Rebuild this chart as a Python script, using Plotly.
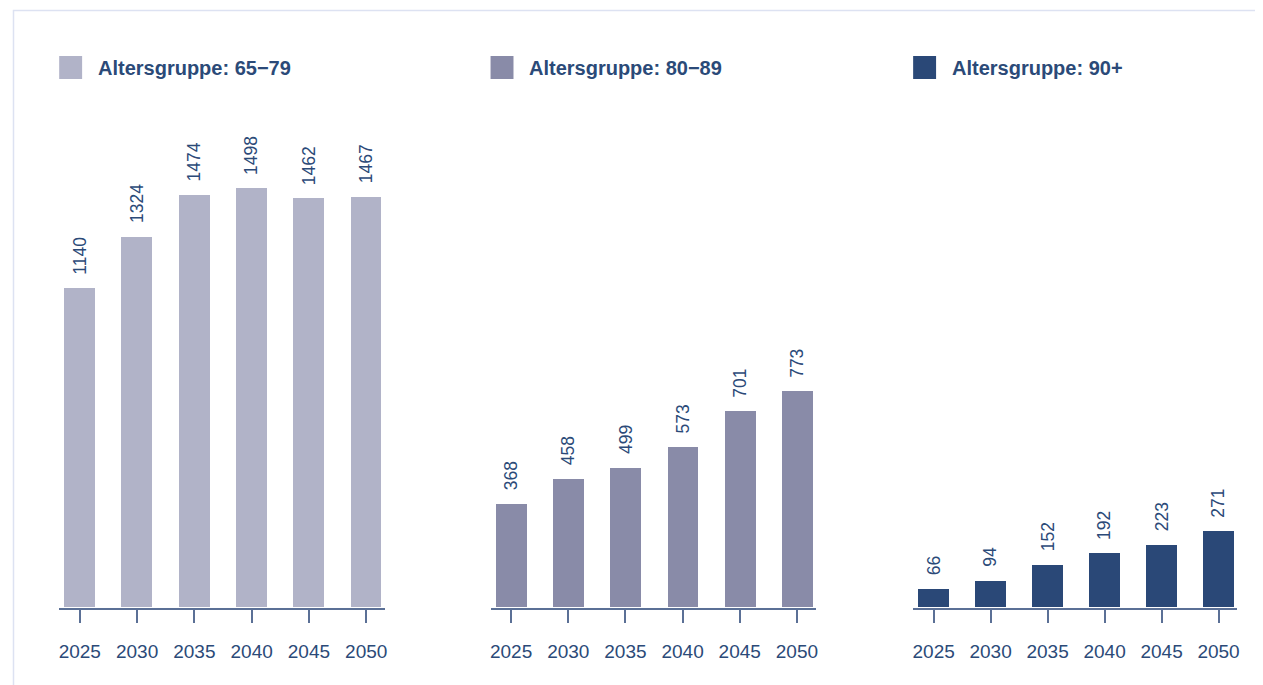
import plotly.graph_objects as go

# the page puts the figure 8px in from the top-left corner
OFFSET = 8
W, H = 1263 - OFFSET, 685 - OFFSET

YEARS = [2025, 2030, 2035, 2040, 2045, 2050]
GROUPS = ["Altersgruppe: 65\u221279", "Altersgruppe: 80\u221289", "Altersgruppe: 90+"]
VALUES_65_79 = [1140, 1324, 1474, 1498, 1462, 1467]
VALUES_80_89 = [368, 458, 499, 573, 701, 773]
VALUES_90 = [66, 94, 152, 192, 223, 271]

COLORS = ["#b1b3c8", "#898ba8", "#2a4877"]
TEXT = "#2b4a78"
AXIS = "#5b7096"
FONT = "Liberation Sans, Arial, sans-serif"

# panel placement in screen pixels (left, right) of each x axis
PANELS = [(58.3, 385.0), (490.7, 816.7), (914.3, 1239.3)]
BASE_Y = 607.5
Y_MAX = 1800
PX_PER_UNIT = 0.2795


def px_x(x):
    return (x - OFFSET) / W


def px_y(y):
    return 1 - (y - OFFSET) / H


fig = go.Figure()

series = [VALUES_65_79, VALUES_80_89, VALUES_90]
y_top = BASE_Y - Y_MAX * PX_PER_UNIT

for i, (vals, col, name) in enumerate(zip(series, COLORS, GROUPS)):
    n = "" if i == 0 else str(i + 1)
    fig.add_trace(
        go.Bar(
            x=YEARS,
            y=vals,
            width=2.7,
            marker=dict(color=col, line=dict(width=0)),
            name=name,
            showlegend=False,
            xaxis="x" + n,
            yaxis="y" + n,
            hoverinfo="x+y",
        )
    )
    left, right = PANELS[i]
    fig.update_layout(
        {
            "xaxis" + n: dict(
                domain=[px_x(left), px_x(right)],
                range=[2023.2, 2051.65],
                tickvals=YEARS,
                ticktext=[str(y) for y in YEARS],
                ticks="outside",
                ticklen=14,
                tickwidth=1.5,
                tickcolor=AXIS,
                ticklabelstandoff=12,
                showline=True,
                linecolor=AXIS,
                linewidth=1.5,
                showgrid=False,
                zeroline=False,
                tickfont=dict(size=19, color=TEXT, family=FONT),
                anchor="y" + n,
                fixedrange=True,
            ),
            "yaxis" + n: dict(
                domain=[px_y(BASE_Y), px_y(y_top)],
                range=[0, Y_MAX],
                visible=False,
                anchor="x" + n,
                fixedrange=True,
            ),
        }
    )
    # value labels
    for yr, v in zip(YEARS, vals):
        fig.add_annotation(
            x=yr,
            y=v,
            xref="x" + n,
            yref="y" + n,
            text=str(v),
            textangle=-90,
            showarrow=False,
            xanchor="center",
            yanchor="bottom",
            yshift=12,
            font=dict(size=17.5, color=TEXT, family=FONT),
        )
    # legend swatch + title
    fig.add_shape(
        type="rect",
        xref="paper",
        yref="paper",
        x0=px_x(left),
        x1=px_x(left + 23),
        y0=px_y(79),
        y1=px_y(56),
        fillcolor=col,
        line=dict(width=0),
    )
    fig.add_annotation(
        x=px_x(left + 37),
        y=px_y(68),
        xref="paper",
        yref="paper",
        text="<b>" + name + "</b>",
        showarrow=False,
        xanchor="left",
        yanchor="middle",
        font=dict(size=20, color=TEXT, family=FONT),
    )

# light frame around the chart
fig.add_shape(
    type="rect",
    xref="paper",
    yref="paper",
    x0=px_x(12.5),
    x1=1.02,
    y0=-0.02,
    y1=px_y(10.5),
    line=dict(color="#dde2f2", width=1.5),
    layer="below",
)

fig.update_layout(
    width=W,
    height=H,
    margin=dict(l=0, r=0, t=0, b=0),
    paper_bgcolor="white",
    plot_bgcolor="rgba(0,0,0,0)",
    bargap=0,
    font=dict(family=FONT, color=TEXT),
)

fig.write_html("out.html")
